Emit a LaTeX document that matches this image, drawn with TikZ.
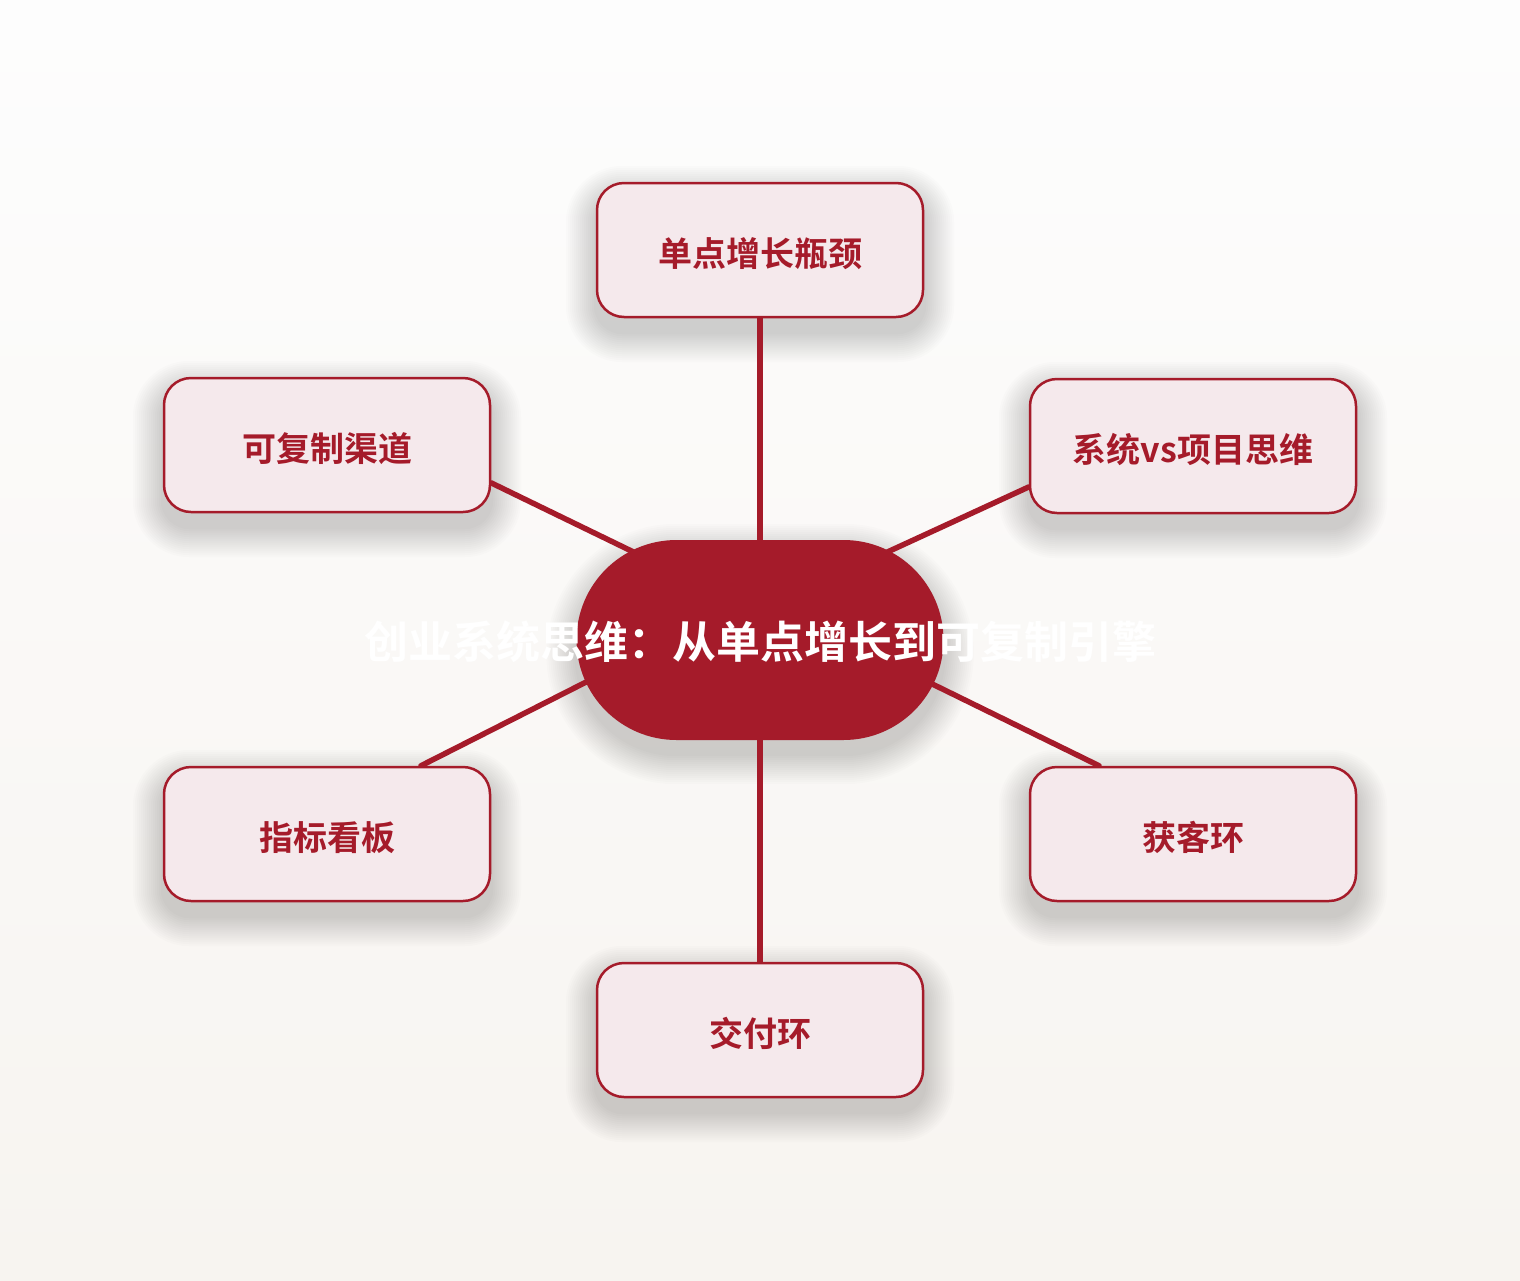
\documentclass[tikz,border=0pt]{standalone}
\usepackage{fontspec}
\newfontfamily\cjk{Noto Sans CJK SC}[BoldFont={Noto Sans CJK SC Bold}]
\usetikzlibrary{calc}
\definecolor{crimson}{HTML}{A51B2A}
\definecolor{boxfill}{HTML}{F5E9EC}
\definecolor{bgtop}{HTML}{FDFDFD}
\definecolor{bgbot}{HTML}{F7F4F0}
\pgfdeclarelayer{bg}
\pgfdeclarelayer{shadowlayer}
\pgfdeclarelayer{lines}
\pgfsetlayers{bg,shadowlayer,lines,main}
\tikzset{
  leaf/.style={draw=crimson, line width=2.5pt, fill=boxfill, rounded corners=27pt,
    minimum width=326pt, minimum height=134pt, inner sep=0pt,
    text=crimson, font=\cjk\bfseries\fontsize{34}{34}\selectfont,
    text height=34pt, text depth=2pt},
  hub/.style={fill=crimson, rounded corners=100pt, minimum width=367pt, minimum height=200pt,
    inner sep=0pt},
  hubtext/.style={text=white, font=\cjk\bfseries\fontsize{44}{44}\selectfont, inner sep=0pt},
  link/.style={draw=crimson, line width=5.5pt, line cap=round},
  shadowstep/.style={fill=black, opacity=0.012}
}
\newcommand\mysoftshadow[2]{% node name, base corner radius
  \foreach \k in {1,...,15}{
    \pgfmathsetmacro\rr{#2+2*\k}
    \fill[shadowstep, rounded corners=\rr pt]
      ($(#1.north west)+(-2*\k,-2*\k+14)$) rectangle ($(#1.south east)+(2*\k,2*\k+14)$);
  }}
\begin{document}
\begin{tikzpicture}[x=1pt,y=-1pt]
\useasboundingbox (0,0) rectangle (1520,1280);
\begin{pgfonlayer}{bg}
  \shade[top color=bgtop, bottom color=bgbot] (0,0) rectangle (1520,1280);
\end{pgfonlayer}
\node[hub] (c) at (760,640) {};
\node[leaf] (t) at (760,250) {单点增长瓶颈};
\node[leaf] (lt) at (327,445) {可复制渠道};
\node[leaf] (rt) at (1193,446) {系统vs项目思维};
\node[leaf] (lb) at (327,834) {指标看板};
\node[leaf] (rb) at (1193,834) {获客环};
\node[leaf] (b) at (760,1030) {交付环};
\begin{pgfonlayer}{shadowlayer}
  \mysoftshadow{c}{100}
  \mysoftshadow{t}{27}
  \mysoftshadow{lt}{27}
  \mysoftshadow{rt}{27}
  \mysoftshadow{lb}{27}
  \mysoftshadow{rb}{27}
  \mysoftshadow{b}{27}
\end{pgfonlayer}
\coordinate (clt) at (650,560);
\coordinate (crt) at (870,560);
\coordinate (clb) at (600,675);
\coordinate (crb) at (920,678);
\begin{pgfonlayer}{lines}
  \draw[link] (t.south) -- (c.center);
  \draw[link] (b.north) -- (c.center);
  \draw[link] (lt.-13.1) -- (clt);
  \draw[link] (rt.-166.5) -- (crt);
  \draw[link] (lb.36.4) -- (clb);
  \draw[link] (rb.144.2) -- (crb);
\end{pgfonlayer}
\node[hubtext] (ctitle) at (760,642) {创业系统思维：从单点增长到可复制引擎};
\end{tikzpicture}
\end{document}
